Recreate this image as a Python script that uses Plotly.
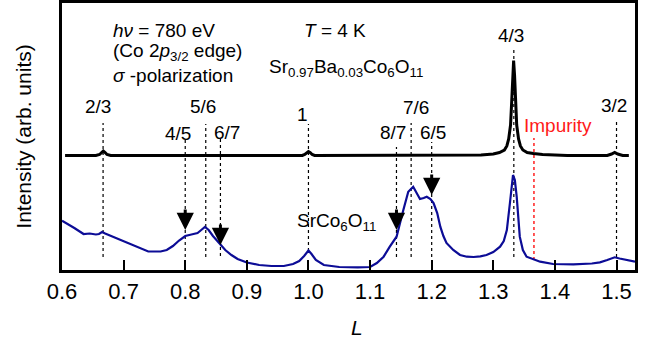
import plotly.graph_objects as go

# ---------------- data ----------------
# SrCo6O11 (lower, blue) : L and intensity (arb. units)
L_sr = [0.600, 0.610, 0.620, 0.630, 0.635, 0.645, 0.655, 0.660, 0.665, 0.670,
        0.680, 0.690, 0.700, 0.710, 0.720, 0.730, 0.740, 0.750, 0.760, 0.770,
        0.780, 0.790, 0.800, 0.810, 0.820, 0.826, 0.832, 0.838, 0.845, 0.855,
        0.865, 0.875, 0.885, 0.900, 0.920, 0.940, 0.960, 0.975, 0.985, 0.993,
        1.000, 1.005, 1.012, 1.025, 1.050, 1.080, 1.100, 1.111, 1.122, 1.132,
        1.143, 1.154, 1.162, 1.170, 1.176, 1.181, 1.187, 1.192, 1.198, 1.203,
        1.209, 1.214, 1.219, 1.224, 1.235, 1.246, 1.257, 1.268, 1.279, 1.289,
        1.300, 1.311, 1.317, 1.322, 1.327, 1.332, 1.335, 1.338, 1.343, 1.348,
        1.354, 1.365, 1.376, 1.397, 1.430, 1.460, 1.473, 1.485, 1.497, 1.505,
        1.511, 1.520, 1.530]
I_sr = [0.493, 0.460, 0.420, 0.380, 0.360, 0.365, 0.355, 0.360, 0.380, 0.365,
        0.340, 0.315, 0.285, 0.260, 0.235, 0.210, 0.185, 0.185, 0.185, 0.200,
        0.240, 0.295, 0.340, 0.355, 0.370, 0.400, 0.430, 0.400, 0.340, 0.270,
        0.200, 0.150, 0.110, 0.075, 0.050, 0.040, 0.040, 0.060, 0.090, 0.140,
        0.195, 0.160, 0.100, 0.050, 0.030, 0.027, 0.030, 0.070, 0.133, 0.233,
        0.333, 0.600, 0.783, 0.833, 0.770, 0.710, 0.720, 0.733, 0.710, 0.670,
        0.570, 0.433, 0.340, 0.270, 0.200, 0.150, 0.133, 0.130, 0.137, 0.150,
        0.180, 0.233, 0.290, 0.400, 0.670, 0.950, 0.900, 0.733, 0.333, 0.200,
        0.133, 0.110, 0.083, 0.060, 0.057, 0.065, 0.077, 0.100, 0.127, 0.115,
        0.107, 0.095, 0.083]

# Sr0.97Ba0.03Co6O11 (upper, black) : intensity above its own baseline
L_ba = [0.605, 0.655, 0.661, 0.664, 0.667, 0.670, 0.673, 0.679, 0.800, 0.990,
        0.994, 0.997, 1.000, 1.003, 1.006, 1.010, 1.200, 1.280, 1.300, 1.310,
        1.318, 1.322, 1.325, 1.328, 1.330, 1.3315, 1.333, 1.3345, 1.336, 1.338,
        1.341, 1.344, 1.348, 1.355, 1.365, 1.380, 1.420, 1.485, 1.492, 1.497,
        1.502, 1.510, 1.520]
I_ba = [0.000, 0.000, 0.010, 0.030, 0.045, 0.030, 0.010, 0.000, 0.000, 0.000,
        0.010, 0.028, 0.040, 0.028, 0.010, 0.000, 0.000, 0.005, 0.015, 0.030,
        0.055, 0.095, 0.165, 0.305, 0.555, 0.805, 0.950, 0.805, 0.555, 0.305,
        0.165, 0.095, 0.055, 0.030, 0.020, 0.010, 0.000, 0.000, 0.015, 0.030,
        0.015, 0.000, 0.000]
BA_OFFSET = 1.145

frac_text = ["2/3", "4/5", "5/6", "6/7", "1", "8/7", "7/6", "6/5", "4/3", "3/2"]
frac_L = [2/3, 4/5, 5/6, 6/7, 1.0, 8/7, 7/6, 6/5, 4/3, 3/2]
impurity_L = 1.366
arrow_L = [4/5, 6/7, 8/7, 6/5]

x_ticks = [0.6, 0.7, 0.8, 0.9, 1.0, 1.1, 1.2, 1.3, 1.4, 1.5]
x_ticklabels = ["0.6", "0.7", "0.8", "0.9", "1.0", "1.1", "1.2", "1.3", "1.4", "1.5"]

# ---------------- styling / layout helpers ----------------
FONT = "Liberation Sans, Arial, Helvetica, sans-serif"
W, H = 647, 339
ML, MR, MT, MB = 62, 12, 3, 69
YMAX = 2.67
FS = 19


def vy(py):  # pixel row -> y-value on the axis
    return (H - MB - py) / (H - MB - MT) * YMAX


# label row, dashed-line top row, dashed-line bottom row, label x-shift
frac_style = {
    "2/3": (106, 123, 257, -5),
    "4/5": (133, 138, 257, -7),
    "5/6": (106, 124, 257, -3),
    "6/7": (132, 139, 256, 7),
    "1":   (114, 124, 251, -6),
    "8/7": (132, 147, 257, -3),
    "7/6": (107, 123, 257, 5),
    "6/5": (132, 142, 257, 1),
    "4/3": (35, 47, 257, -3),
    "3/2": (105, 122, 257, -3),
}
arrow_style = {4/5: (230, 18), 6/7: (245, 18), 8/7: (230, 18), 6/5: (195, 18)}

fig = go.Figure()
fig.add_trace(go.Scatter(x=L_sr, y=I_sr, mode="lines",
                         line=dict(color="#0c0c96", width=2.2), hoverinfo="skip"))
fig.add_trace(go.Scatter(x=L_ba, y=[v + BA_OFFSET for v in I_ba], mode="lines",
                         line=dict(color="black", width=3), hoverinfo="skip"))

shapes = []
annotations = []
for t, L in zip(frac_text, frac_L):
    lab, top, bot, xs = frac_style[t]
    shapes.append(dict(type="line", xref="x", yref="y", x0=L, x1=L,
                       y0=vy(bot), y1=vy(top),
                       line=dict(color="black", width=1.2, dash="3px,3px"),
                       layer="below"))
    annotations.append(dict(x=L, y=vy(lab), xref="x", yref="y", text=t,
                            showarrow=False, xshift=xs,
                            font=dict(family=FONT, size=FS, color="black")))

shapes.append(dict(type="line", xref="x", yref="y", x0=impurity_L, x1=impurity_L,
                   y0=vy(260), y1=vy(138),
                   line=dict(color="#ff2020", width=1.5, dash="3px,3px"),
                   layer="below"))
annotations.append(dict(x=1.405, y=vy(125), xref="x", yref="y", text="Impurity",
                        showarrow=False,
                        font=dict(family=FONT, size=FS, color="#ff1a1a")))

for L in arrow_L:
    tip, ln = arrow_style[L]
    annotations.append(dict(x=L, y=vy(tip), xref="x", yref="y", text="",
                            showarrow=True, ax=0, ay=-ln - 4,
                            arrowhead=2, arrowsize=1.15, arrowwidth=3,
                            arrowcolor="black", standoff=0))

texts = [
    ("<i>hν</i> = 780 eV", 0.6795, 30),
    ("(Co 2<i>p</i><sub>3/2</sub> edge)", 0.6795, 52),
    ("<i>σ</i> -polarization", 0.6795, 75),
    ("<i>T</i> = 4 K", 0.9895, 30),
    ("Sr<sub>0.97</sub>Ba<sub>0.03</sub>Co<sub>6</sub>O<sub>11</sub>", 0.9327, 68),
    ("SrCo<sub>6</sub>O<sub>11</sub>", 0.978, 222),
]
for t, x, py in texts:
    annotations.append(dict(x=x, y=vy(py), xref="x", yref="y", text=t,
                            showarrow=False, xanchor="left",
                            font=dict(family=FONT, size=FS, color="black")))

# x-axis title "L" placed as a paper annotation
annotations.append(dict(x=(357 - ML) / (W - ML - MR), y=(H - MB - 327) / (H - MB - MT),
                        xref="paper", yref="paper", text="<i>L</i>", showarrow=False,
                        xanchor="center", yanchor="middle",
                        font=dict(family=FONT, size=21, color="black")))

fig.update_layout(
    width=W, height=H,
    margin=dict(l=ML, r=MR, t=MT, b=MB, autoexpand=False),
    paper_bgcolor="white", plot_bgcolor="white",
    showlegend=False,
    shapes=shapes, annotations=annotations,
    font=dict(family=FONT, color="black"),
    xaxis=dict(range=[0.6, 1.53], tickvals=x_ticks, ticktext=x_ticklabels,
               ticks="inside", ticklen=10, tickwidth=2, tickcolor="black",
               showline=True, mirror=True, linewidth=2.5, linecolor="black",
               showgrid=False, zeroline=False, automargin=False,
               tickfont=dict(family=FONT, size=22)),
    yaxis=dict(range=[0, YMAX], showticklabels=False, ticks="",
               showline=True, mirror=True, linewidth=2.5, linecolor="black",
               showgrid=False, zeroline=False, automargin=False,
               title=dict(text="Intensity (arb. units)",
                          font=dict(family=FONT, size=21), standoff=22)),
)

fig.write_html("out.html", config={"displayModeBar": False},
               post_script="document.body.style.margin='0';document.body.style.padding='0';")
